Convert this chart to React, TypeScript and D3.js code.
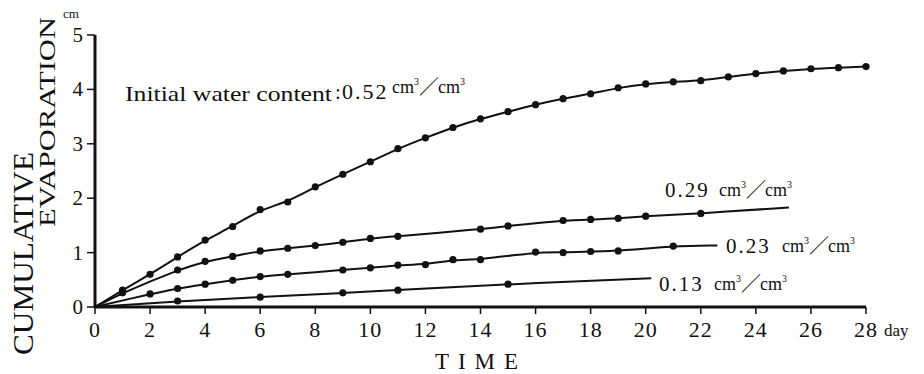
import * as d3 from 'd3';

// 0.52 cm3/cm3
const days52 = [1, 2, 3, 4, 5, 6, 7, 8, 9, 10, 11, 12, 13, 14, 15, 16, 17, 18, 19, 20, 21, 22, 23, 24, 25, 26, 27, 28];
const evap52 = [0.31, 0.6, 0.92, 1.23, 1.48, 1.79, 1.93, 2.21, 2.44, 2.67, 2.91, 3.11, 3.3, 3.46, 3.59, 3.72, 3.83, 3.92, 4.03, 4.1, 4.14, 4.16, 4.23, 4.29, 4.34, 4.38, 4.4, 4.42];

// 0.29 cm3/cm3
const days29 = [1, 3, 4, 5, 6, 7, 8, 9, 10, 11, 14, 15, 17, 18, 19, 20, 22];
const evap29 = [0.26, 0.68, 0.84, 0.93, 1.03, 1.08, 1.13, 1.19, 1.26, 1.3, 1.43, 1.49, 1.59, 1.61, 1.63, 1.67, 1.72];

// 0.23 cm3/cm3
const days23 = [2, 3, 4, 5, 6, 7, 9, 10, 11, 12, 13, 14, 16, 17, 18, 19, 21];
const evap23 = [0.24, 0.34, 0.42, 0.49, 0.56, 0.6, 0.68, 0.72, 0.77, 0.78, 0.87, 0.87, 1.01, 1.0, 1.02, 1.03, 1.12];

// 0.13 cm3/cm3
const days13 = [3, 6, 9, 11, 15];
const evap13 = [0.11, 0.18, 0.26, 0.31, 0.42];

// where each fitted curve stops
const curveEndDay = [28, 25.2, 22.6, 20.2];
const curveEndVal = [4.42, 1.83, 1.13, 0.53];

const xTicks = [0, 2, 4, 6, 8, 10, 12, 14, 16, 18, 20, 22, 24, 26, 28];
const yTicks = [0, 1, 2, 3, 4, 5];

const serif = { fontFamily: "'Liberation Serif', 'DejaVu Serif', serif" };
const cjk = { fontFamily: "'Noto Sans CJK JP', sans-serif" };

const x = d3.scaleLinear().domain([0, 28]).range([95, 866]);
const y = d3.scaleLinear().domain([0, 5]).range([307, 35]);

const series = [
  { days: days52, vals: evap52, curve: d3.curveBasis },
  { days: days29, vals: evap29, curve: d3.curveBasis },
  { days: days23, vals: evap23, curve: d3.curveBasis },
  { days: days13, vals: evap13, curve: d3.curveBasis },
];

function Unit({ x0, y0 }: { x0: number; y0: number }) {
  // cm³／cm³
  return (
    <text x={x0} y={y0} style={serif} fontSize={18} fill="#111">
      cm<tspan fontSize={10} dy={-8}>3</tspan>
      <tspan style={cjk} fontSize={20} dy={9} dx={0}>／</tspan>
      <tspan dx={-1} dy={-1}>cm</tspan>
      <tspan fontSize={10} dy={-8}>3</tspan>
    </text>
  );
}

export default function App() {
  const line = (s: typeof series[0], i: number) => {
    const pts: [number, number][] = [[0, 0], ...s.days.map((d, j) => [d, s.vals[j]] as [number, number]), [curveEndDay[i], curveEndVal[i]]];
    return d3.line<[number, number]>().x(d => x(d[0])).y(d => y(d[1])).curve(s.curve)(pts) || '';
  };

  return (
    <svg width={924} height={374} style={{ position: 'absolute', left: 0, top: 0, background: '#fff' }}>
      <rect width={924} height={374} fill="#fff" />

      {/* y axis title */}
      <text transform="translate(33,355) rotate(-90)" style={serif} fontSize={29} textLength={203} lengthAdjust="spacingAndGlyphs" fill="#111">CUMULATIVE</text>
      <text transform="translate(55,227) rotate(-90)" style={serif} fontSize={24} textLength={210} lengthAdjust="spacingAndGlyphs" fill="#111">EVAPORATION</text>
      <text x={63} y={18} style={serif} fontSize={13} fill="#111">cm</text>

      {/* axes */}
      <line x1={x(0)} x2={x(0)} y1={y(0) + 1} y2={y(5)} stroke="#111" strokeWidth={3} />
      <line x1={x(0) - 1} x2={x(28)} y1={y(0)} y2={y(0)} stroke="#111" strokeWidth={3} />

      {yTicks.map(t => (
        <g key={'y' + t}>
          <line x1={x(0) - 8} x2={x(0)} y1={y(t)} y2={y(t)} stroke="#111" strokeWidth={1.5} />
          <text x={83} y={y(t) + 7} textAnchor="end" style={serif} fontSize={21} fill="#111">{t}</text>
        </g>
      ))}
      {xTicks.map(t => (
        <g key={'x' + t}>
          <line x1={x(t)} x2={x(t)} y1={y(0)} y2={y(0) + 7} stroke="#111" strokeWidth={1.5} />
          <text x={x(t)} y={337} textAnchor="middle" style={serif} fontSize={22} letterSpacing={1} fill="#111">{t}</text>
        </g>
      ))}
      <text x={884} y={336} style={serif} fontSize={17} fill="#111">day</text>
      <text x={481} y={369} textAnchor="middle" style={serif} fontSize={23} letterSpacing={9} fill="#111">TIME</text>

      {/* curves and points */}
      {series.map((s, i) => (
        <g key={'s' + i}>
          <path d={line(s, i)} fill="none" stroke="#111" strokeWidth={2} />
          {s.days.map((d, j) => (
            <circle key={j} cx={x(d)} cy={y(s.vals[j])} r={3.6} fill="#111" />
          ))}
        </g>
      ))}

      {/* labels */}
      <text x={125} y={101} style={serif} fontSize={21} textLength={207} lengthAdjust="spacingAndGlyphs" fill="#111">Initial water content</text>
      <text x={335} y={99} style={serif} fontSize={21} fill="#111">:</text>
      <text x={342} y={99} style={serif} fontSize={22} letterSpacing={2} fill="#111">0.52</text>
      <Unit x0={392} y0={93} />

      <text x={665} y={197} style={serif} fontSize={21} letterSpacing={2} fill="#111">0.29</text>
      <Unit x0={719} y0={196} />

      <text x={726} y={253} style={serif} fontSize={21} letterSpacing={2} fill="#111">0.23</text>
      <Unit x0={782} y0={252} />

      <text x={659} y={291} style={serif} fontSize={21} letterSpacing={2} fill="#111">0.13</text>
      <Unit x0={714} y0={290} />
    </svg>
  );
}
